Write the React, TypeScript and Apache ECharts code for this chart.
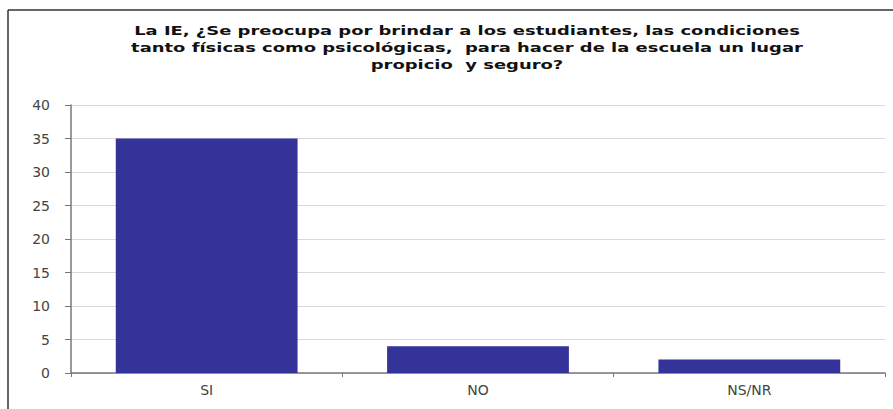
import React, { useEffect, useRef } from "react";
import * as echarts from "echarts";

const titleLines = [
  "La IE, ¿Se preocupa por brindar a los estudiantes, las condiciones",
  "tanto físicas como psicológicas,  para hacer de la escuela un lugar",
  "propicio  y seguro?",
];
const categories = ["SI", "NO", "NS/NR"];
const values = [35, 4, 2];

export default function App() {
  const ref = useRef<HTMLDivElement>(null);
  useEffect(() => {
    if (!ref.current) return;
    const chart = echarts.init(ref.current, null, { renderer: "svg" });
    const titleTexts = titleLines.map((line, i) => ({
      type: "text",
      x: 467,
      y: 24 + i * 17,
      scaleX: 1.38,
      style: {
        text: line,
        x: 0,
        y: 0,
        textAlign: "center",
        textVerticalAlign: "top",
        fontFamily: "DejaVu Sans",
        fontWeight: "bold",
        fontSize: 13,
        fill: "#111111",
      },
    }));
    chart.setOption({
      animation: false,
      backgroundColor: "#ffffff",
      graphic: [
        { type: "line", shape: { x1: 8, y1: 10, x2: 893, y2: 10 }, style: { stroke: "#333", lineWidth: 1.5 } },
        { type: "line", shape: { x1: 8, y1: 10, x2: 8, y2: 409 }, style: { stroke: "#333", lineWidth: 1.5 } },
        ...titleTexts,
      ],
      grid: { left: 71, right: 8, top: 105, bottom: 36 },
      xAxis: {
        type: "category",
        data: categories,
        axisLine: { lineStyle: { color: "#777", width: 1.5 } },
        axisTick: { show: true, length: 4, lineStyle: { color: "#777" } },
        axisLabel: { margin: 10, fontFamily: "DejaVu Sans", fontSize: 14, color: "#444" },
        splitLine: { show: false },
      },
      yAxis: {
        type: "value",
        min: 0,
        max: 40,
        interval: 5,
        axisLine: { show: true, lineStyle: { color: "#777", width: 1.5 } },
        axisTick: { show: true, length: 6, lineStyle: { color: "#777" } },
        axisLabel: { margin: 21, fontFamily: "DejaVu Sans", fontSize: 14, color: "#444" },
        splitLine: { lineStyle: { color: "#d9d9d9", width: 1 } },
      },
      series: [
        {
          type: "bar",
          data: values,
          barCategoryGap: "33%",
          itemStyle: { color: "#333399" },
        },
      ],
    });
    return () => chart.dispose();
  }, []);
  return (
    <div
      ref={ref}
      style={{ position: "absolute", left: 0, top: 0, width: 893, height: 409 }}
    />
  );
}
